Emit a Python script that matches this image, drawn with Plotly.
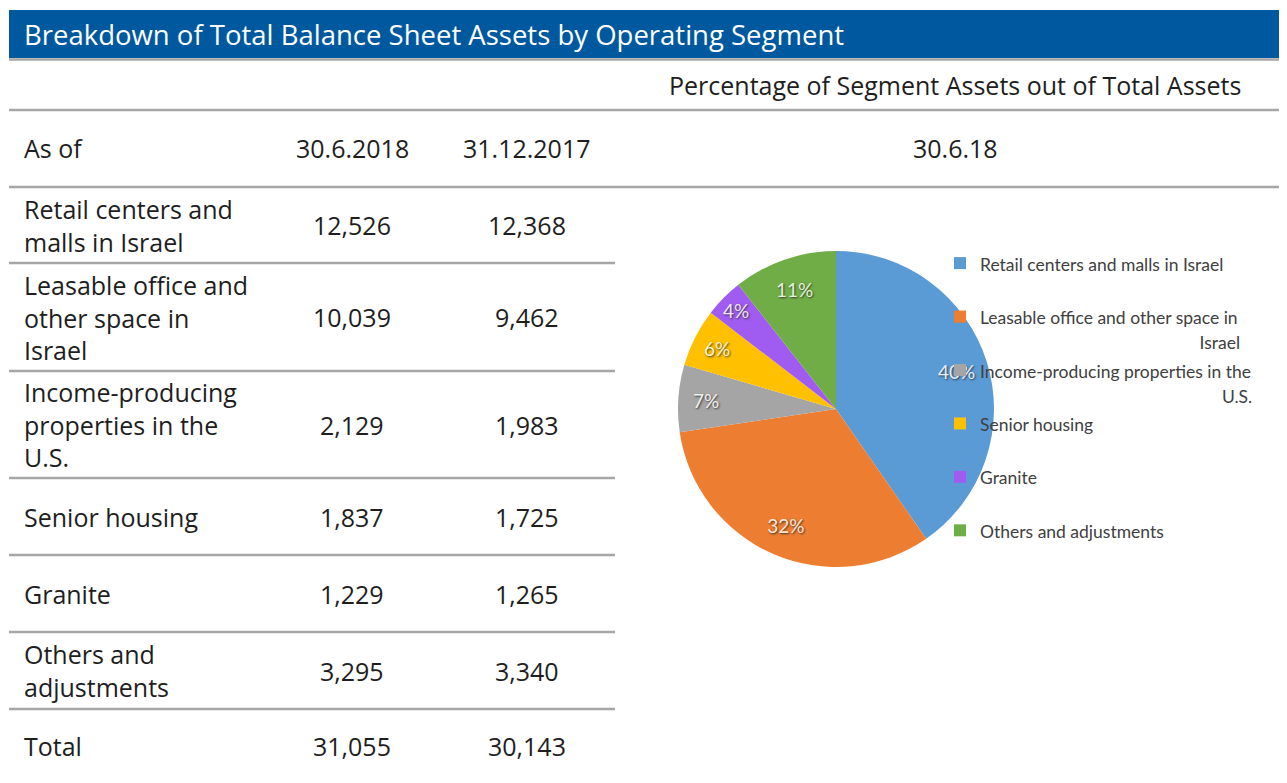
import plotly.graph_objects as go

# ---------------- data ----------------
segments = ["Retail centers and malls in Israel",
            "Leasable office and other space in Israel",
            "Income-producing properties in the U.S.",
            "Senior housing",
            "Granite",
            "Others and adjustments"]
table_labels = ["Retail centers and<br>malls in Israel",
                "Leasable office and<br>other space in<br>Israel",
                "Income-producing<br>properties in the<br>U.S.",
                "Senior housing",
                "Granite",
                "Others and<br>adjustments"]
assets_2018 = [12526, 10039, 2129, 1837, 1229, 3295]
assets_2017 = [12368, 9462, 1983, 1725, 1265, 3340]
total_2018 = 31055
total_2017 = 30143
col_headers = ["As of", "30.6.2018", "31.12.2017"]
pie_date = "30.6.18"
title = "Breakdown of Total Balance Sheet Assets by Operating Segment"
pie_title = "Percentage of Segment Assets out of Total Assets"
legend_first = ["Retail centers and malls in Israel",
                "Leasable office and other space in",
                "Income-producing properties in the",
                "Senior housing", "Granite", "Others and adjustments"]
legend_second = ["", "Israel", "U.S.", "", "", ""]
colors = ["#5B9BD5", "#ED7D31", "#A5A5A5", "#FFC000", "#A05CF0", "#70AD47"]
text_colors = ["#e4eef8", "#fde6d4", "#f0f0f0", "#fff3c8", "#eee0fd", "#e2f2d6"]

# ---------------- layout helpers (page pixel -> paper) ----------------
OFF = 8                      # default body margin of the html page
W, H = 1287 - OFF, 783 - OFF
def X(px):
    return (px - OFF) / W
def Y(py):
    return 1 - (py - OFF) / H

FONT = "Open Sans"
TXT = "#1e1e1e"
GRAY = "#A6A6A6"
FS = 25

fig = go.Figure()

# legend labels (two lines each; continuation lines pushed to the right)
leg_pad = [0, 49, 54, 0, 0, 0]
leg_labels = []
for a, b, p in zip(legend_first, legend_second, leg_pad):
    second = ("\u00a0" * p + b) if b else "\u00a0"
    leg_labels.append('<span style="font-size:17.5px">' + a + '</span><br>'
                      '<span style="font-size:17.5px">' + second + '</span>')

cx, cy, r = 836, 409, 158
dom_x = [X(cx - r), X(cx + r)]
dom_y = [Y(cy + r), Y(cy - r)]

fig.add_trace(go.Pie(
    labels=leg_labels, values=assets_2018, sort=False, direction="clockwise",
    rotation=0, domain=dict(x=dom_x, y=dom_y),
    marker=dict(colors=colors, line=dict(width=0)),
    textinfo="none", hoverinfo="skip", showlegend=True))

# percentage labels placed in the outer ring of the pie
fig.add_trace(go.Pie(
    labels=leg_labels, values=assets_2018, sort=False, direction="clockwise",
    rotation=0, domain=dict(x=dom_x, y=dom_y), hole=0.6,
    marker=dict(colors=["rgba(0,0,0,0)"] * 6, line=dict(width=0)),
    texttemplate="%{percent:.0%}", textposition="inside",
    insidetextorientation="horizontal",
    textfont=dict(family="Lato", size=19, color=text_colors,
                  shadow="1px 1px 2px rgba(40,40,40,0.85)"),
    hoverinfo="skip", showlegend=False))

shapes = []
shapes.append(dict(type="rect", xref="paper", yref="paper", x0=X(9), x1=X(1300),
                   y0=Y(58), y1=Y(10), fillcolor="#00599F", line=dict(width=0), layer="below"))
for yy in [59.5, 110, 187]:
    shapes.append(dict(type="line", xref="paper", yref="paper", x0=X(9), x1=X(1300),
                       y0=Y(yy), y1=Y(yy), line=dict(color=GRAY, width=2.5)))
row_edges = [187, 263, 371, 478, 555, 632, 709, 783]
for yy in row_edges[1:-1]:
    shapes.append(dict(type="line", xref="paper", yref="paper", x0=X(9), x1=X(615),
                       y0=Y(yy), y1=Y(yy), line=dict(color=GRAY, width=2.5)))

ann = []
ann.append(dict(text=title, x=X(22), y=Y(34), xref="paper", yref="paper",
                xanchor="left", yanchor="middle", showarrow=False,
                font=dict(family=FONT, size=27.5, color="white")))
ann.append(dict(text=pie_title, x=X(955), y=Y(85), xref="paper", yref="paper",
                xanchor="center", yanchor="middle", showarrow=False,
                font=dict(family=FONT, size=FS, color=TXT)))
col_x = [22, 352, 527]
for i, h in enumerate(col_headers):
    ann.append(dict(text=h, x=X(col_x[i]), y=Y(148), xref="paper", yref="paper",
                    xanchor="left" if i == 0 else "center", yanchor="middle",
                    showarrow=False, font=dict(family=FONT, size=FS, color=TXT)))
ann.append(dict(text=pie_date, x=X(955), y=Y(148), xref="paper", yref="paper",
                xanchor="center", yanchor="middle", showarrow=False,
                font=dict(family=FONT, size=FS, color=TXT)))

rows_lab = table_labels + ["Total"]
rows_a = assets_2018 + [total_2018]
rows_b = assets_2017 + [total_2017]
for i in range(len(rows_lab)):
    yc = (row_edges[i] + row_edges[i + 1]) / 2
    for txt, xx, anc in [(rows_lab[i], col_x[0], "left"),
                         (f"{rows_a[i]:,}", col_x[1], "center"),
                         (f"{rows_b[i]:,}", col_x[2], "center")]:
        ann.append(dict(text=txt, x=X(xx), y=Y(yc), xref="paper", yref="paper",
                        xanchor=anc, yanchor="middle", align="left", showarrow=False,
                        font=dict(family=FONT, size=FS, color=TXT)))

fig.update_layout(
    width=W, height=H, margin=dict(l=0, r=0, t=0, b=0, autoexpand=False),
    paper_bgcolor="white", plot_bgcolor="white",
    shapes=shapes, annotations=ann,
    legend=dict(x=X(940), y=Y(244), xanchor="left", yanchor="top",
                font=dict(family="Lato", size=19.4, color="#404040"),
                bgcolor="rgba(0,0,0,0)", valign="top", traceorder="normal"),
)

fig.write_html("out.html")
